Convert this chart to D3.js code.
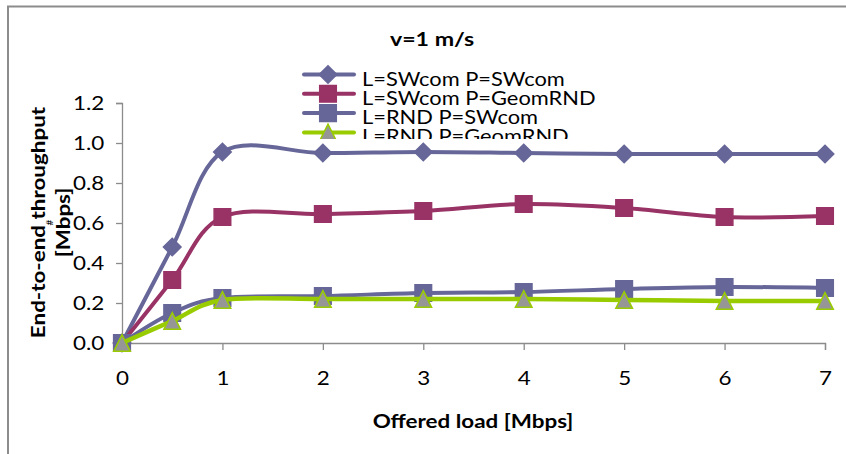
<!DOCTYPE html>
<html lang="en">
<head>
<meta charset="utf-8">
<script src="https://d3js.org/d3.v7.min.js"></script>
<style>
  body { margin: 0; background: white; }
  text { font-family: Lato, "Open Sans", sans-serif; fill: black; }
</style>
</head>
<body>
<div id="chart_data"></div>
<script>
// offered load (x) and the four series
var loads = [0, 0.5, 1, 2, 3, 4, 5, 6, 7];
var swSw   = [0, 0.48, 0.955, 0.95, 0.955, 0.95, 0.945, 0.945, 0.945];
var swGeo  = [0, 0.315, 0.63, 0.645, 0.66, 0.695, 0.675, 0.63, 0.635];
var rndSw  = [0, 0.15, 0.225, 0.235, 0.25, 0.255, 0.27, 0.28, 0.275];
var rndGeo = [0, 0.11, 0.215, 0.22, 0.22, 0.22, 0.215, 0.21, 0.21];
var seriesNames = ["L=SWcom P=SWcom", "L=SWcom P=GeomRND", "L=RND P=SWcom", "L=RND P=GeomRND"];
var xTicks = [0, 1, 2, 3, 4, 5, 6, 7];
var yTicks = [0, 0.2, 0.4, 0.6, 0.8, 1.0, 1.2];

var series = [
  {name: seriesNames[0], values: swSw,   line: "#666699", fill: "#666699", stroke: "#666699", shape: "diamond"},
  {name: seriesNames[1], values: swGeo,  line: "#993366", fill: "#993366", stroke: "#993366", shape: "square"},
  {name: seriesNames[2], values: rndSw,  line: "#666699", fill: "#666699", stroke: "#666699", shape: "square"},
  {name: seriesNames[3], values: rndGeo, line: "#99cc00", fill: "#969696", stroke: "#99cc00", shape: "triangle"}
];

var W = 846, H = 454;
var SX = 1.18; // the original text is a bit wide, stretch it horizontally
var svg = d3.select("#chart_data").append("svg")
    .attr("width", W).attr("height", H);

// outer frame (only left and top edges visible)
svg.append("path")
    .attr("d", "M8,460 L8,6.5 L860,6.5")
    .attr("fill", "none").attr("stroke", "#8c8c8c").attr("stroke-width", 2);

var x = d3.scaleLinear().domain([0, 7]).range([122, 825]);
var y = d3.scaleLinear().domain([0, 1.2]).range([343, 103]);

// y axis
var yAxis = svg.append("g")
    .attr("transform", "translate(122,0)")
    .call(d3.axisLeft(y).tickValues(yTicks).tickSize(6).tickPadding(9)
      .tickFormat(d3.format(".1f")));
// x axis
var xAxis = svg.append("g")
    .attr("transform", "translate(0,343)")
    .call(d3.axisBottom(x).tickValues(xTicks).tickSize(7).tickPadding(22)
      .tickFormat(function(d){ return d; }));
[yAxis, xAxis].forEach(function(a){
  a.select(".domain").attr("stroke", "#8c8c8c").attr("stroke-width", 1.3);
  a.selectAll(".tick line").attr("stroke", "#8c8c8c").attr("stroke-width", 1.3);
  a.selectAll(".tick text").style("font-size", "19px").style("font-family", "Lato, sans-serif")
      .attr("transform", "scale(" + SX + ",1)");
});
xAxis.selectAll(".tick").filter(function(d){ return d === 0; }).select("line").remove();

function label(parent, tx, ty, str, size, weight, anchor, sx) {
  return parent.append("text")
      .attr("transform", "translate(" + tx + "," + ty + ") scale(" + sx + ",1)")
      .attr("text-anchor", anchor)
      .style("font-size", size + "px").style("font-weight", weight)
      .text(str);
}

// title and axis titles
label(svg, 432, 46, "v=1 m/s", 19, "bold", "middle", 1.22);
label(svg, 473, 428, "Offered load [Mbps]", 19, "bold", "middle", SX);
var yt = svg.append("g").attr("transform", "translate(0,222.5) rotate(-90)");
label(yt, 0, 45, "End-to-end throughput", 19, "bold", "middle", SX);
label(yt, 0, 70, "[Mbps]", 19, "bold", "middle", SX);
label(yt, 0, 53, "#", 10, "normal", "middle", 1);

// marker shapes, sized like the spreadsheet markers
var symDiamond = { draw: function(ctx) {
  var r = 8.8; ctx.moveTo(0, -r); ctx.lineTo(r, 0); ctx.lineTo(0, r); ctx.lineTo(-r, 0); ctx.closePath(); } };
var symSquare = { draw: function(ctx) {
  var r = 8.3; ctx.moveTo(-r, -r); ctx.lineTo(r, -r); ctx.lineTo(r, r); ctx.lineTo(-r, r); ctx.closePath(); } };
var symTriangle = { draw: function(ctx) {
  var r = 8.3; ctx.moveTo(0, -r); ctx.lineTo(r, r); ctx.lineTo(-r, r); ctx.closePath(); } };
function markerPath(shape) {
  var t = shape === "diamond" ? symDiamond : shape === "square" ? symSquare : symTriangle;
  return d3.symbol().type(t)();
}

// legend (clipped at the bottom like the original)
svg.append("clipPath").attr("id", "legclip")
  .append("rect").attr("x", 290).attr("y", 55).attr("width", 400).attr("height", 84);
var leg = svg.append("g").attr("clip-path", "url(#legclip)");
series.forEach(function(s, i) {
  var ly = 74.5 + i * 19.3;
  leg.append("line").attr("x1", 304).attr("x2", 354).attr("y1", ly).attr("y2", ly)
      .attr("stroke", s.line).attr("stroke-width", 4).attr("stroke-linecap", "round");
  leg.append("path").attr("d", markerPath(s.shape))
      .attr("transform", "translate(328," + ly + ")")
      .attr("fill", s.fill).attr("stroke", s.stroke).attr("stroke-width", 1.5);
  label(leg, 362, ly + 11, s.name, 19, "normal", "start", 1.15);
});

// lines (smoothed like the spreadsheet)
var line = d3.line()
    .x(function(d, i){ return x(loads[i]); })
    .y(function(d){ return y(d); })
    .curve(d3.curveCatmullRom.alpha(0));

series.forEach(function(s) {
  svg.append("path").datum(s.values)
      .attr("fill", "none").attr("stroke", s.line)
      .attr("stroke-width", s.shape === "triangle" ? 4.5 : 4)
      .attr("d", line);
  svg.selectAll(null).data(s.values).enter().append("path")
      .attr("d", markerPath(s.shape))
      .attr("transform", function(d, i){ return "translate(" + x(loads[i]) + "," + y(d) + ")"; })
      .attr("fill", s.fill).attr("stroke", s.stroke).attr("stroke-width", 1.5);
});
</script>
</body>
</html>
